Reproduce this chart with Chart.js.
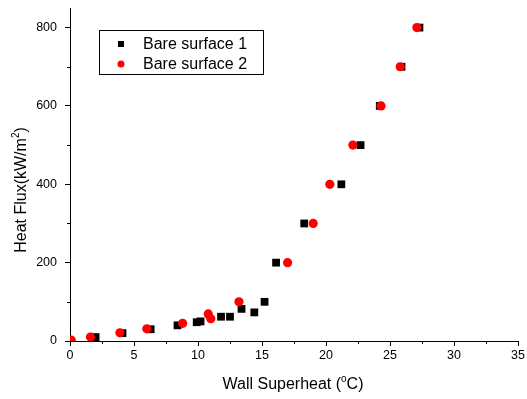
<!DOCTYPE html>
<html>
<head>
<meta charset="utf-8">
<script src="https://cdn.jsdelivr.net/npm/chart.js@4.4.1/dist/chart.umd.min.js"></script>
<style>
  html, body { margin: 0; padding: 0; background: #fff; }
  #wrap { width: 527px; height: 399px; }
</style>
</head>
<body>
<div id="wrap"><canvas id="myChart" width="527" height="399"></canvas></div>
<script>
// wall superheat (C) vs heat flux (kW/m2)
const surface1X = [2.0, 4.1, 6.3, 8.4, 9.9, 10.2, 11.8, 12.5, 13.4, 14.4, 15.2, 16.1, 18.3, 21.2, 22.7, 24.2, 25.9, 27.3]
const surface1Y = [10, 20, 30, 40, 48, 50, 62, 62, 82, 73, 100, 200, 300, 400, 500, 600, 700, 800]
const surface2X = [0.1, 1.6, 3.9, 6.0, 8.8, 10.8, 11.0, 13.2, 17.0, 19.0, 20.3, 22.1, 24.3, 25.8, 27.1]
const surface2Y = [2, 10, 21, 31, 45, 69, 57, 100, 200, 300, 400, 500, 600, 700, 800]

const seriesNames = ['Bare surface 1', 'Bare surface 2']
const xTicks = [0, 5, 10, 15, 20, 25, 30, 35]
const yTicks = [0, 200, 400, 600, 800]
const xMinor = [2.5, 7.5, 12.5, 17.5, 22.5, 27.5, 32.5]
const yMinor = [100, 300, 500, 700]

const FONT = "Arial, 'Liberation Sans', sans-serif"

function toPoints(xs, ys) {
    let pts = []
    for (let i = 0; i < xs.length; i++) {
        pts.push({ x: xs[i], y: ys[i] })
    }
    return pts
}

// short minor ticks + axis titles with superscripts + boxed legend
const extras = {
    id: 'extras',
    afterDraw(chart) {
        const ctx = chart.ctx
        const xs = chart.scales.x
        const ys = chart.scales.y
        const area = chart.chartArea
        ctx.save()
        ctx.strokeStyle = '#000'
        ctx.lineWidth = 1
        ctx.beginPath()
        xMinor.forEach(v => {
            let px = Math.round(xs.getPixelForValue(v)) + 0.5
            ctx.moveTo(px, area.bottom)
            ctx.lineTo(px, area.bottom + 3)
        })
        yMinor.forEach(v => {
            let py = Math.round(ys.getPixelForValue(v)) + 0.5
            ctx.moveTo(area.left, py)
            ctx.lineTo(area.left - 3, py)
        })
        ctx.stroke()

        // x title
        ctx.fillStyle = '#000'
        ctx.textBaseline = 'middle'
        ctx.textAlign = 'left'
        drawSup(ctx, 'Wall Superheat (', 'o', 'C)', 293, 385)

        // y title
        ctx.save()
        ctx.translate(22, 190)
        ctx.rotate(-Math.PI / 2)
        drawSup(ctx, 'Heat Flux(kW/m', '2', ')', 0, 0)
        ctx.restore()

        // legend
        ctx.strokeStyle = '#000'
        ctx.strokeRect(99.5, 30.5, 164, 44)
        chart.data.datasets.forEach((ds, i) => {
            let cy = 44 + i * 20
            ctx.fillStyle = ds.backgroundColor
            ctx.beginPath()
            if (ds.pointStyle === 'rect') {
                ctx.rect(118, cy - 3, 6, 6)
            } else {
                ctx.arc(121, cy, 3.5, 0, Math.PI * 2)
            }
            ctx.fill()
            ctx.fillStyle = '#000'
            ctx.font = '16px ' + FONT
            ctx.textAlign = 'left'
            ctx.fillText(ds.label, 143, cy + 1)
        })
        ctx.restore()
    }
}

function drawSup(ctx, before, sup, after, cx, cy) {
    const big = '16px ' + FONT
    const small = '10px ' + FONT
    ctx.font = big
    let w1 = ctx.measureText(before).width
    let w3 = ctx.measureText(after).width
    ctx.font = small
    let w2 = ctx.measureText(sup).width
    let x = cx - (w1 + w2 + w3) / 2
    ctx.textAlign = 'left'
    ctx.font = big
    ctx.fillText(before, x, cy)
    ctx.font = small
    ctx.fillText(sup, x + w1, cy - 6)
    ctx.font = big
    ctx.fillText(after, x + w1 + w2, cy)
}

const ctx = document.getElementById('myChart')

new Chart(ctx, {
    type: 'scatter',
    data: {
        datasets: [{
            label: seriesNames[0],
            data: toPoints(surface1X, surface1Y),
            pointStyle: 'rect',
            pointRadius: 5.5,
            pointHoverRadius: 5.5,
            backgroundColor: '#000000',
            borderColor: '#000000',
            borderWidth: 0,
            order: 2
        }, {
            label: seriesNames[1],
            data: toPoints(surface2X, surface2Y),
            pointStyle: 'circle',
            pointRadius: 4.6,
            pointHoverRadius: 4.6,
            backgroundColor: '#ff0000',
            borderColor: '#ff0000',
            borderWidth: 0,
            order: 1
        }]
    },
    options: {
        responsive: false,
        animation: false,
        layout: {
            padding: { top: 8, right: 9, left: 0, bottom: 0 }
        },
        plugins: {
            legend: { display: false },
            tooltip: { enabled: false }
        },
        scales: {
            x: {
                type: 'linear',
                min: 0,
                max: 35,
                afterBuildTicks: (scale) => {
                    scale.ticks = xTicks.map(v => ({ value: v }))
                },
                afterFit: (scale) => { scale.height = 58 },
                ticks: {
                    color: '#000',
                    font: { family: FONT, size: 12.5 },
                    padding: 2,
                    maxRotation: 0
                },
                grid: {
                    drawOnChartArea: false,
                    tickLength: 5,
                    tickColor: '#000'
                },
                border: { color: '#000', width: 1 }
            },
            y: {
                type: 'linear',
                min: 0,
                max: 850,
                afterBuildTicks: (scale) => {
                    scale.ticks = yTicks.map(v => ({ value: v }))
                },
                afterFit: (scale) => {
                    scale.width = 70
                    scale.paddingTop = 0
                    scale.paddingBottom = 0
                },
                ticks: {
                    color: '#000',
                    font: { family: FONT, size: 12.5 },
                    padding: 8
                },
                grid: {
                    drawOnChartArea: false,
                    tickLength: 5,
                    tickColor: '#000'
                },
                border: { color: '#000', width: 1 }
            }
        }
    },
    plugins: [extras]
});
</script>
</body>
</html>
